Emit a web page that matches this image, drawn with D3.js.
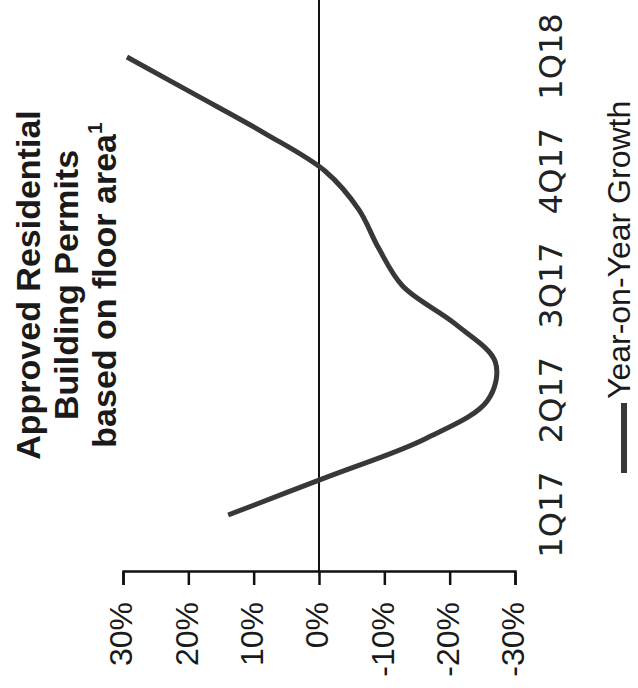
<!DOCTYPE html>
<html>
<head>
<meta charset="utf-8">
<script src="https://cdn.jsdelivr.net/npm/d3@7"></script>
<style>
  html, body { margin: 0; padding: 0; background: #fff; }
  svg { display: block; }
</style>
</head>
<body>
<svg id="chart" width="638" height="688"></svg>
<script>
// ---- data ----
const categories = ["1Q17", "2Q17", "3Q17", "4Q17", "1Q18"];
const categoryMonths = [0, 3, 6, 9, 12];
const months = [0, 1, 2, 3, 4, 5, 6, 7, 8, 9, 10, 11, 12];
const growth = [13.9, -1.3, -16.3, -25.8, -27.0, -20.9, -12.8, -9.1, -6.1, -1.0, 8.3, 18.8, 29.4];
const valueTicks = [30, 20, 10, 0, -10, -20, -30];
const valueTickLabels = ["30%", "20%", "10%", "0%", "-10%", "-20%", "-30%"];
const titleLines = ["Approved Residential", "Building Permits", "based on floor area"];
const seriesName = "Year-on-Year Growth";

// ---- layout (chart drawn upright, then rotated -90deg) ----
const W = 638, H = 688;
const svg = d3.select("#chart");
svg.append("rect").attr("width", W).attr("height", H).attr("fill", "#fff");
const g = svg.append("g").attr("transform", `translate(0,${H}) rotate(-90)`);

const x = d3.scaleLinear().domain([0, 12]).range([173, 631]);
const y = d3.scaleLinear().domain([-30, 30]).range([515, 123]);
const axisU = 116;

// zero line
g.append("line")
  .attr("x1", axisU).attr("x2", H + 5)
  .attr("y1", y(0)).attr("y2", y(0))
  .attr("stroke", "#111").attr("stroke-width", 2);

// value axis
const yAxis = d3.axisLeft(y)
  .tickValues(valueTicks)
  .tickSize(13)
  .tickPadding(17)
  .tickFormat((d, i) => valueTickLabels[i]);
const ya = g.append("g").attr("transform", `translate(${axisU},0)`).call(yAxis);
ya.select(".domain").attr("stroke", "#111").attr("stroke-width", 2.5);
ya.selectAll(".tick line").attr("stroke", "#111").attr("stroke-width", 2.5);
ya.selectAll(".tick text")
  .attr("font-family", "'Liberation Sans', Arial, sans-serif")
  .attr("font-size", 32)
  .attr("fill", "#1a1a1a")
  .attr("dy", "0.28em");

// category labels
const xAxis = d3.axisBottom(x)
  .tickValues(categoryMonths)
  .tickSize(0)
  .tickPadding(0)
  .tickFormat((d, i) => categories[i]);
const xa = g.append("g").attr("transform", "translate(0,562)").call(xAxis);
xa.select(".domain").remove();
xa.selectAll(".tick text")
  .attr("font-family", "'DejaVu Sans', sans-serif")
  .attr("font-size", 32)
  .attr("fill", "#222")
  .attr("dy", 0)
  .attr("y", 0);

// series line
const line = d3.line()
  .x((d, i) => x(months[i]))
  .y(d => y(d))
  .curve(d3.curveCatmullRom.alpha(0.5));
g.append("path")
  .datum(growth)
  .attr("d", line)
  .attr("fill", "none")
  .attr("stroke", "#383838")
  .attr("stroke-width", 5)
  .attr("stroke-linejoin", "round")
  .attr("stroke-linecap", "butt");

// title
const title = g.append("text")
  .attr("font-family", "'Liberation Sans', Arial, sans-serif")
  .attr("font-size", 34)
  .attr("font-weight", "bold")
  .attr("fill", "#1a1a1a")
  .attr("text-anchor", "middle");
const titleBase = [40, 78, 116];
titleLines.forEach((t, i) => {
  title.append("tspan").attr("x", 403).attr("y", titleBase[i]).text(t);
});
title.append("tspan")
  .attr("font-size", 21)
  .attr("dy", -14)
  .text("1");

// legend
g.append("line")
  .attr("x1", 215).attr("x2", 285)
  .attr("y1", 624).attr("y2", 624)
  .attr("stroke", "#383838").attr("stroke-width", 6);
g.append("text")
  .attr("x", 289).attr("y", 630)
  .attr("font-family", "'Liberation Sans', Arial, sans-serif")
  .attr("font-size", 32)
  .attr("fill", "#1a1a1a")
  .text(seriesName);
</script>
</body>
</html>
